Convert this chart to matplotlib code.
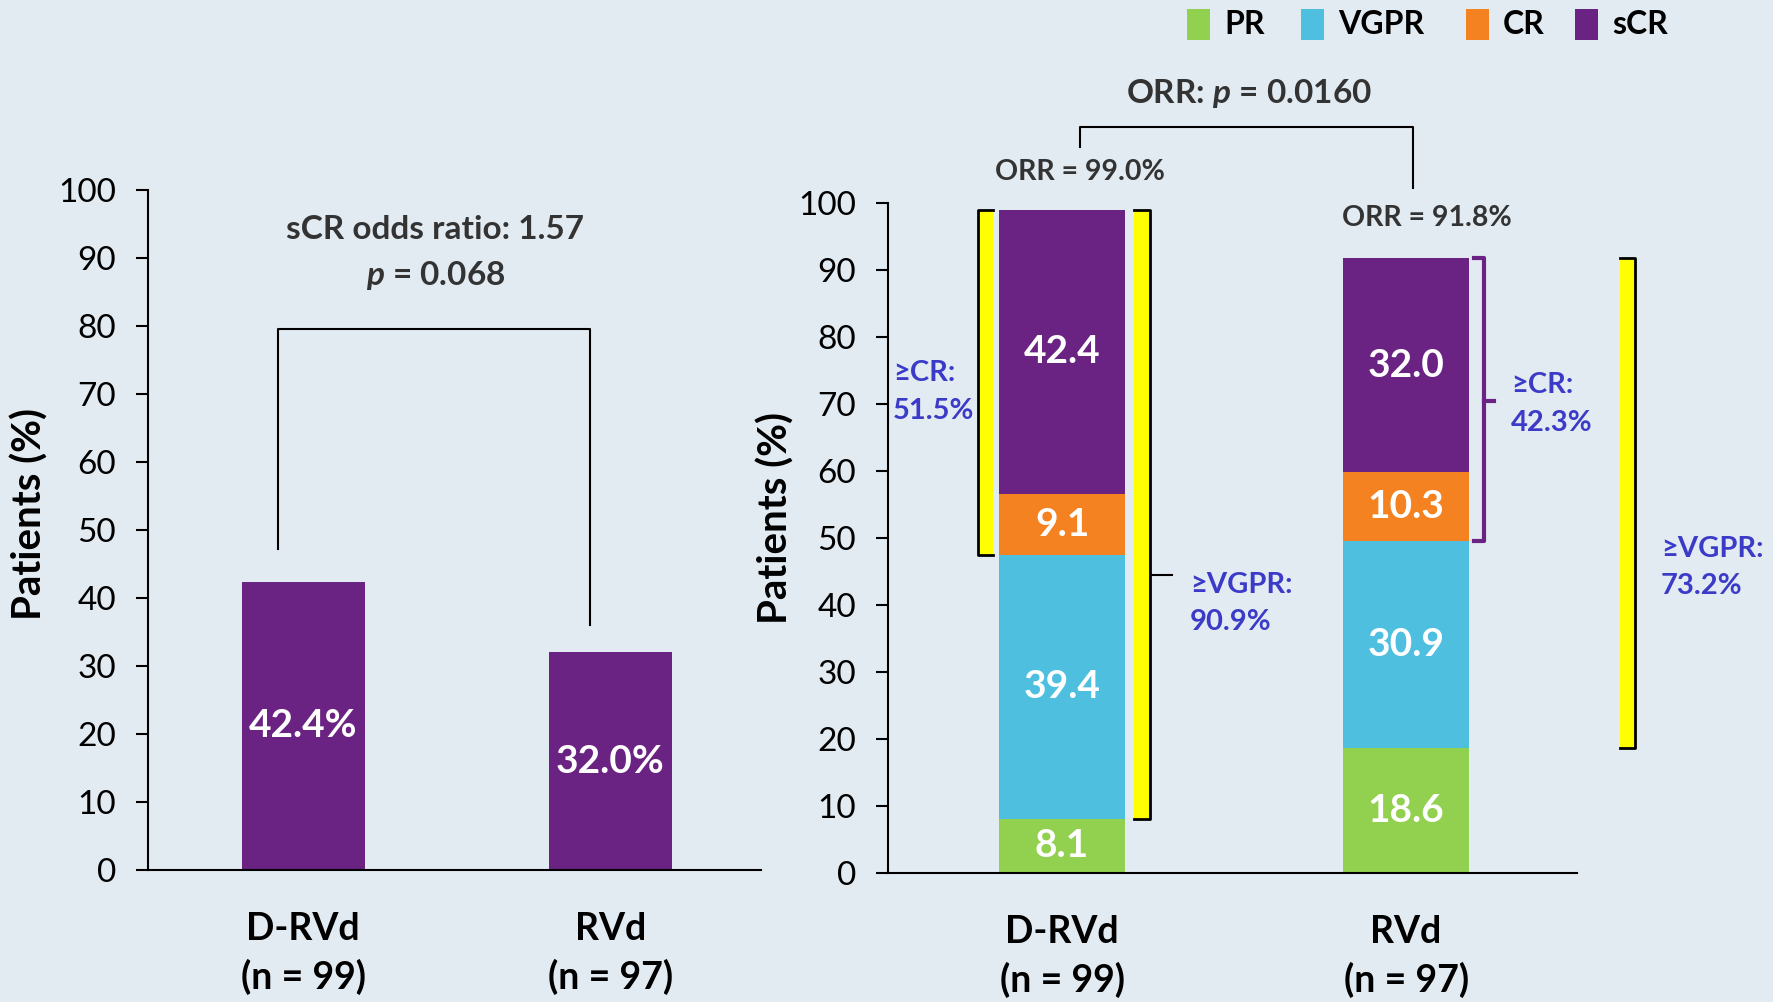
import matplotlib
matplotlib.use("Agg")
import matplotlib.pyplot as plt
from matplotlib.patches import Rectangle

# data
groups = ["D-RVd\n(n = 99)", "RVd\n(n = 97)"]
scr_left = [42.4, 32.0]
categories = ["PR", "VGPR", "CR", "sCR"]
pr = [8.1, 18.6]
vgpr = [39.4, 30.9]
cr = [9.1, 10.3]
scr = [42.4, 32.0]
orr = [99.0, 91.8]
ge_cr = [51.5, 42.3]
ge_vgpr = [90.9, 73.2]

colors = ["#92D050", "#4FBFE0", "#F58220", "#6B2383"]
bg = "#E3EBF2"
blue = "#3B3BC8"
dark = "#333333"
yellow = "#FFFF00"

plt.rcParams["font.family"] = ["Lato", "DejaVu Sans"]
plt.rcParams["mathtext.fontset"] = "custom"
plt.rcParams["mathtext.it"] = "Lato:bold:italic"
plt.rcParams["mathtext.rm"] = "Lato:bold"

fig = plt.figure(figsize=(17.73, 10.02), dpi=100)
fig.patch.set_facecolor(bg)

ax1 = fig.add_axes([0.0835, 0.1317, 0.3457, 0.6786])
ax2 = fig.add_axes([0.5008, 0.1287, 0.3887, 0.6687])

for ax in (ax1, ax2):
    ax.set_facecolor(bg)
    ax.set_ylim(0, 100)
    ax.set_yticks(range(0, 101, 10))
    for s in ("top", "right"):
        ax.spines[s].set_visible(False)
    for s in ("left", "bottom"):
        ax.spines[s].set_linewidth(1.5)
    ax.tick_params(axis="y", direction="out", length=9, width=1.5, labelsize=24, pad=14)
    ax.tick_params(axis="x", length=0, labelsize=27, pad=30)
    ax.set_xticks([0, 1])
    ax.set_xticklabels(groups, fontweight="bold", linespacing=1.45)
    ax.set_ylabel("Patients (%)", fontsize=29, fontweight="bold")

# left panel: sCR only
ax1.set_xlim(-0.505, 1.49)
ax1.bar([0, 1], scr_left, width=0.40, color=colors[3])
for i, v in enumerate(scr_left):
    ax1.text(i, v / 2, f"{v:.1f}%", ha="center", va="center", color="white",
             fontsize=28, fontweight="bold")
ax1.plot([-0.081, -0.081, 0.935, 0.935], [47.2, 79.5, 79.5, 36], color="black", lw=1.5)
ax1.text(0.43, 94.2, "sCR odds ratio: 1.57", ha="center", va="center", fontsize=24,
         fontweight="bold", color=dark)
ax1.text(0.43, 87.5, "$p$ = 0.068", ha="center", va="center", fontsize=24,
         fontweight="bold", color=dark)
ax1.yaxis.set_label_coords(-0.162, 0.523)

# right panel: stacked response
ax2.set_xlim(-0.506, 1.497)
bottom = [0, 0]
for cat, vals, col in zip(categories, [pr, vgpr, cr, scr], colors):
    ax2.bar([0, 1], vals, width=0.366, bottom=bottom, color=col)
    for i, v in enumerate(vals):
        ax2.text(i, bottom[i] + v / 2, f"{v:.1f}", ha="center", va="center",
                 color="white", fontsize=28, fontweight="bold")
    bottom = [b + v for b, v in zip(bottom, vals)]
ax2.yaxis.set_label_coords(-0.135, 0.53)


def bracket(ax, x0, x1, y0, y1, side, fill, edge, lw=2):
    # side: "left" -> line on x0, "right" -> line on x1
    if fill is not None:
        ax.add_patch(Rectangle((x0, y0), x1 - x0, y1 - y0, facecolor=fill,
                               edgecolor="none", clip_on=False, zorder=3))
    if side == "left":
        xs = [x1, x0, x0, x1]
    else:
        xs = [x0, x1, x1, x0]
    ax.plot(xs, [y1, y1, y0, y0], color=edge, lw=lw, clip_on=False, zorder=4,
            solid_joinstyle="round")


b_cr0 = pr[0] + vgpr[0]
b_cr1 = pr[1] + vgpr[1]
bracket(ax2, -0.244, -0.201, b_cr0, orr[0], "left", yellow, "black")
bracket(ax2, 0.209, 0.256, pr[0], orr[0], "right", yellow, "black")
ax2.plot([0.262, 0.32], [44.5, 44.5], color="black", lw=1.5, clip_on=False)
bracket(ax2, 1.198, 1.227, b_cr1, orr[1], "right", None, colors[3], lw=3)
ax2.plot([1.227, 1.256], [70.4, 70.4], color=colors[3], lw=3, clip_on=False)
bracket(ax2, 1.622, 1.666, pr[1], orr[1], "right", yellow, "black")

txt = dict(ha="left", va="center", color=blue, fontsize=21, fontweight="bold",
           linespacing=1.55, clip_on=False)
ax2.text(-0.491, 71.8, f"≥CR:\n{ge_cr[0]}%", **txt)
ax2.text(0.372, 40.2, f"≥VGPR:\n{ge_vgpr[0]}%", **txt)
ax2.text(1.305, 70.0, f"≥CR:\n{ge_cr[1]}%", **txt)
ax2.text(1.741, 45.6, f"≥VGPR:\n{ge_vgpr[1]}%", **txt)

ax2.text(0.052, 104.7, f"ORR = {orr[0]}%", ha="center", va="center", fontsize=20.5,
         fontweight="bold", color=dark, clip_on=False)
ax2.text(1.06, 97.8, f"ORR = {orr[1]}%", ha="center", va="center", fontsize=20.5,
         fontweight="bold", color=dark, clip_on=False)
ax2.plot([0.052, 0.052, 1.02, 1.02], [108.4, 111.3, 111.3, 102.2], color="black",
         lw=1.5, clip_on=False)
ax2.text(0.544, 116.3, "ORR: $p$ = 0.0160", ha="center", va="center", fontsize=24,
         fontweight="bold", color=dark, clip_on=False)

# legend drawn in figure pixels
W, H = 1773, 1002
leg_x = [1187, 1301, 1466, 1575]
for cat, col, x in zip(categories, colors, leg_x):
    fig.patches.append(Rectangle((x / W, 1 - 40 / H), 23 / W, 31 / H, facecolor=col,
                                 edgecolor="none", transform=fig.transFigure))
    fig.text((x + 37) / W, 1 - 25 / H, cat, ha="left", va="center", fontsize=23,
             fontweight="bold", color="black")

fig.savefig("out.png", dpi=100, facecolor=bg)
